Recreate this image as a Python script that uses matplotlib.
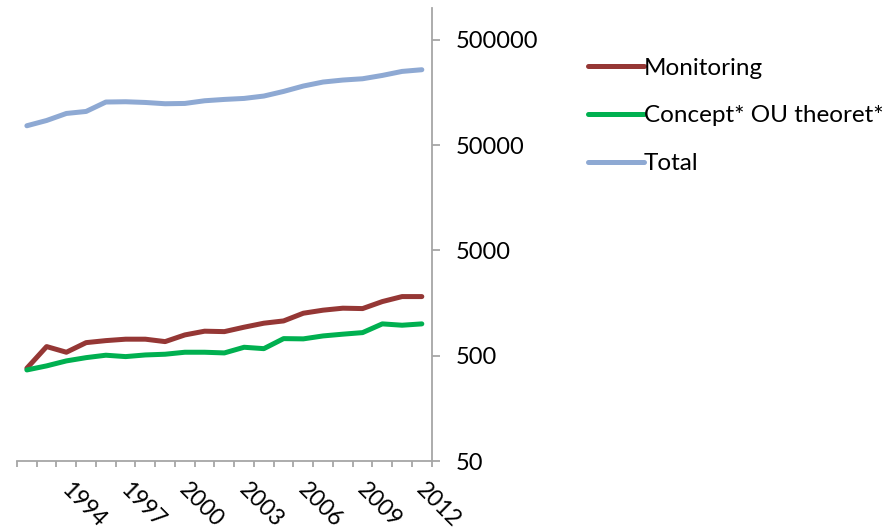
import matplotlib
matplotlib.use("Agg")
import matplotlib.pyplot as plt
from matplotlib.transforms import ScaledTranslation
from matplotlib.ticker import FixedLocator, NullLocator

plt.rcParams['font.family'] = ['Lato', 'DejaVu Sans']

years = list(range(1992, 2013))
label_years = [1994, 1997, 2000, 2003, 2006, 2009, 2012]

monitoring = [380, 610, 539, 665, 695, 717, 717, 680, 787, 854, 846, 932,
              1017, 1069, 1265, 1352, 1412, 1400, 1632, 1820, 1820]
concept_ou = [366, 400, 446, 479, 505, 490, 508, 516, 539, 539, 531, 601,
              583, 726, 722, 770, 800, 828, 1002, 973, 1002]
total = [76200, 85500, 99700, 104200, 128000, 128800, 126800, 123300, 124100,
         131600, 135500, 138500, 145900, 161400, 181600, 198200, 207000,
         212900, 229000, 250000, 259400]

y_ticks = [50, 500, 5000, 50000, 500000]

series_names = ["Monitoring", "Concept* OU theoret*", "Total"]
series_colors = ["#953735", "#00B050", "#8EA9D3"]

fig = plt.figure(figsize=(8.88, 5.32), dpi=100)
ax = fig.add_axes([17 / 888, 71 / 532, 414.7 / 888, 453 / 532])

x = list(range(len(years)))
for vals, name, col in zip([monitoring, concept_ou, total], series_names, series_colors):
    ax.plot(x, vals, color=col, lw=3.6, solid_capstyle='round',
            solid_joinstyle='round', label=name)

ax.set_yscale('log')
ax.set_ylim(50, 1.0e6)
ax.set_xlim(-0.5, len(years) - 0.5)

axis_color = "#A6A6A6"
for side in ['top', 'left']:
    ax.spines[side].set_visible(False)
for side in ['right', 'bottom']:
    ax.spines[side].set_color(axis_color)
    ax.spines[side].set_linewidth(1.3)

# y axis on the right
ax.yaxis.set_ticks_position('right')
ax.yaxis.set_major_locator(FixedLocator(y_ticks))
ax.yaxis.set_minor_locator(NullLocator())
ax.set_yticklabels([str(v) for v in y_ticks])
ax.tick_params(axis='y', which='major', direction='out', length=6, width=1.3,
               color=axis_color, pad=11, labelsize=17, labelcolor='black')

# category boundaries as minor ticks, labels every third year
ax.xaxis.set_minor_locator(FixedLocator([i - 0.5 for i in range(len(years) + 1)]))
ax.set_xticks([years.index(yv) for yv in label_years])
ax.set_xticklabels([str(yv) for yv in label_years])
ax.tick_params(axis='x', which='minor', direction='out', length=4, width=1.3,
               color=axis_color)
ax.tick_params(axis='x', which='major', length=0, pad=18, labelsize=16.5,
               labelcolor='black')
offset = ScaledTranslation(-0.02, 0, fig.dpi_scale_trans)
for lab in ax.get_xticklabels():
    lab.set_rotation(-45)
    lab.set_rotation_mode('anchor')
    lab.set_ha('left')
    lab.set_va('center')
    lab.set_transform(lab.get_transform() + offset)

leg = fig.legend(loc='upper left', bbox_to_anchor=(578 / 888, 1 - 48 / 532),
                 frameon=False, fontsize=17.5, handlelength=2.3,
                 handletextpad=0.0, labelspacing=1.1, borderaxespad=0)
for h in leg.get_lines():
    h.set_linewidth(3.6)
    h.set_solid_capstyle('round')

fig.savefig("out.png", dpi=100)
